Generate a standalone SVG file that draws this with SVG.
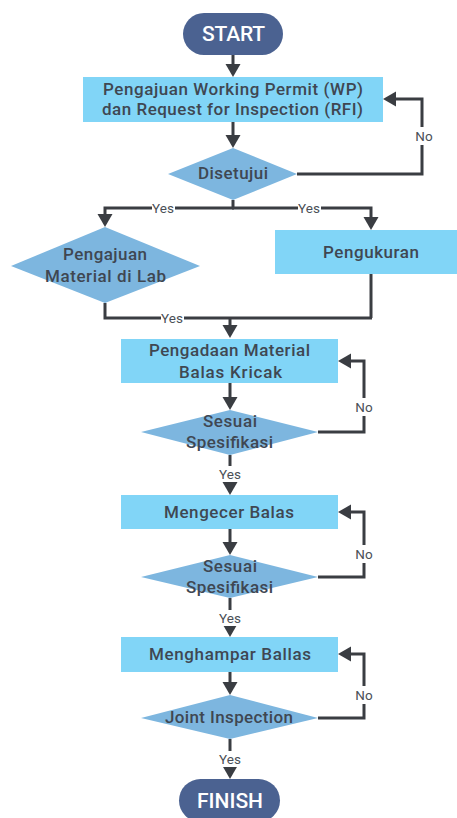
<svg xmlns="http://www.w3.org/2000/svg" width="457" height="818" viewBox="0 0 457 818">
  <style>
    .pill { fill: #4B6291; }
    .box { fill: #81D5F7; }
    .dia { fill: #7DB6DF; }
    .t { font-family: Roboto, "Liberation Sans", sans-serif; font-size: 17px; font-weight: 500; fill: #3F4752; text-anchor: middle; dominant-baseline: central; }
    .tw { font-family: Roboto, "Liberation Sans", sans-serif; font-size: 21px; font-weight: 500; fill: #FFFFFF; text-anchor: middle; dominant-baseline: central; }
    .lbl { font-family: Roboto, "Liberation Sans", sans-serif; font-size: 13.5px; fill: #4A4F57; text-anchor: middle; dominant-baseline: central; }
    .bg { fill: #FFFFFF; }
    .ln { fill: none; stroke: #3A3D42; stroke-width: 3; }
  </style>
  <defs>
    <marker id="arrow" markerUnits="userSpaceOnUse" markerWidth="14" markerHeight="16" refX="3" refY="7.5" orient="auto">
      <path d="M0,0 L13,7.5 L0,15 z" fill="#3A3D42"/>
    </marker>
  </defs>

  <!-- connectors -->
  <g id="connectors">
    <path class="ln" d="M233,55 V67" marker-end="url(#arrow)"/>
    <path class="ln" d="M233,122 V138" marker-end="url(#arrow)"/>
    <path class="ln" d="M297,174 H422 V99 H393" marker-end="url(#arrow)"/>
    <path class="ln" d="M233,200 V208"/>
    <path class="ln" d="M234,208 H105 V217" marker-end="url(#arrow)"/>
    <path class="ln" d="M232,208 H371 V220" marker-end="url(#arrow)"/>
    <path class="ln" d="M105,303 V318 H372"/>
    <path class="ln" d="M371,274 V318"/>
    <path class="ln" d="M230,318 V328" marker-end="url(#arrow)"/>
    <path class="ln" d="M230,383 V400" marker-end="url(#arrow)"/>
    <path class="ln" d="M318,432 H364 V361 H348" marker-end="url(#arrow)"/>
    <path class="ln" d="M230,455 V485" marker-end="url(#arrow)"/>
    <path class="ln" d="M230,529 V545" marker-end="url(#arrow)"/>
    <path class="ln" d="M318,577 H364 V512 H348" marker-end="url(#arrow)"/>
    <path class="ln" d="M230,598 V627" marker-end="url(#arrow)"/>
    <path class="ln" d="M230,672 V685" marker-end="url(#arrow)"/>
    <path class="ln" d="M318,718 H364 V654 H348" marker-end="url(#arrow)"/>
    <path class="ln" d="M230,739 V769" marker-end="url(#arrow)"/>

    <!-- branch labels -->
    <rect class="bg" x="414" y="127" width="18" height="18"/>
    <text class="lbl" x="424" y="136">No</text>
    <rect class="bg" x="152" y="201" width="23" height="14"/>
    <text class="lbl" x="163" y="208">Yes</text>
    <rect class="bg" x="298" y="201" width="23" height="14"/>
    <text class="lbl" x="309" y="208">Yes</text>
    <rect class="bg" x="161" y="311" width="23" height="14"/>
    <text class="lbl" x="172" y="318">Yes</text>
    <rect class="bg" x="355" y="398" width="18" height="18"/>
    <text class="lbl" x="364" y="407">No</text>
    <rect class="bg" x="218" y="466" width="24" height="16"/>
    <text class="lbl" x="230" y="474">Yes</text>
    <rect class="bg" x="355" y="545" width="18" height="18"/>
    <text class="lbl" x="364" y="554">No</text>
    <rect class="bg" x="218" y="610" width="24" height="16"/>
    <text class="lbl" x="230" y="618">Yes</text>
    <rect class="bg" x="355" y="686" width="18" height="18"/>
    <text class="lbl" x="364" y="695">No</text>
    <rect class="bg" x="218" y="751" width="24" height="16"/>
    <text class="lbl" x="230" y="759">Yes</text>
  </g>

  <!-- nodes -->
  <g id="start">
    <rect class="pill" x="183" y="13" width="100" height="42" rx="21"/>
    <text class="tw" x="233.5" y="34" textLength="63">START</text>
  </g>
  <g id="pengajuan-wp">
    <rect class="box" x="83" y="77" width="300" height="45"/>
    <text class="t" x="233" y="89" textLength="260">Pengajuan Working Permit (WP)</text>
    <text class="t" x="232.5" y="109" textLength="261">dan Request for Inspection (RFI)</text>
  </g>
  <g id="disetujui">
    <polygon class="dia" points="168,174 233,148 297,174 233,200"/>
    <text class="t" x="233" y="173" textLength="70">Disetujui</text>
  </g>
  <g id="pengajuan-material">
    <polygon class="dia" points="11,266 105,227 200,266 105,303"/>
    <text class="t" x="105" y="254" textLength="84">Pengajuan</text>
    <text class="t" x="105.5" y="276" textLength="121">Material di Lab</text>
  </g>
  <g id="pengukuran">
    <rect class="box" x="275" y="230" width="182" height="44"/>
    <text class="t" x="371" y="252" textLength="96">Pengukuran</text>
  </g>
  <g id="pengadaan-material">
    <rect class="box" x="121" y="339" width="217" height="44"/>
    <text class="t" x="229.5" y="350" textLength="161">Pengadaan Material</text>
    <text class="t" x="230.5" y="372" textLength="103">Balas Kricak</text>
  </g>
  <g id="sesuai-1">
    <polygon class="dia" points="141,432 230,410 318,432 230,455"/>
    <text class="t" x="230" y="421" textLength="54">Sesuai</text>
    <text class="t" x="229.5" y="442" textLength="87">Spesifikasi</text>
  </g>
  <g id="mengecer-balas">
    <rect class="box" x="121" y="495" width="217" height="34"/>
    <text class="t" x="229" y="512" textLength="130">Mengecer Balas</text>
  </g>
  <g id="sesuai-2">
    <polygon class="dia" points="141,577 230,555 318,577 230,598"/>
    <text class="t" x="230" y="566" textLength="54">Sesuai</text>
    <text class="t" x="229.5" y="587" textLength="87">Spesifikasi</text>
  </g>
  <g id="menghampar-ballas">
    <rect class="box" x="121" y="637" width="217" height="35"/>
    <text class="t" x="230" y="654" textLength="162">Menghampar Ballas</text>
  </g>
  <g id="joint-inspection">
    <polygon class="dia" points="141,718 230,695 318,718 230,739"/>
    <text class="t" x="229" y="717" textLength="128">Joint Inspection</text>
  </g>
  <g id="finish">
    <rect class="pill" x="179" y="779" width="101" height="43" rx="21.5"/>
    <text class="tw" x="230" y="801" textLength="66">FINISH</text>
  </g>
</svg>
